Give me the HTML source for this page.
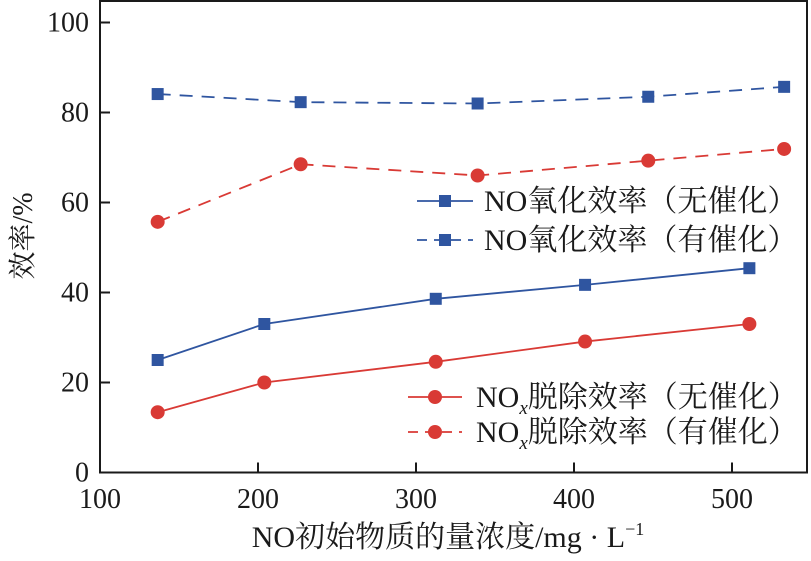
<!DOCTYPE html>
<html><head><meta charset="utf-8">
<style>
html,body{margin:0;padding:0;background:#fff;}
svg text{font-family:"Liberation Serif","Noto Serif CJK SC",serif;fill:#1a1a1a;}
</style></head>
<body>
<svg id="chart" width="811" height="556" viewBox="0 0 811 556" xmlns="http://www.w3.org/2000/svg">
<g id="plot"></g>
</svg>
<script>
const xTicks = [100, 200, 300, 400, 500];
const yTicks = [0, 20, 40, 60, 80, 100];
const xSolid = [136.5, 204, 312.5, 407, 511];
const oxSolid = [25.0, 33.0, 38.6, 41.7, 45.4];
const noxSolid = [13.4, 20.0, 24.6, 29.1, 33.0];
const xDashed = [136.5, 227, 339, 447, 533];
const oxDashed = [84.1, 82.3, 82.0, 83.5, 85.7];
const noxDashed = [55.7, 68.5, 66.0, 69.3, 71.9];

const L=100, R=807, T=1, B=472.5;
const X = v => L + (v-100)*1.58;
const Y = v => B - v*4.5;
const NS='http://www.w3.org/2000/svg';
const g=document.getElementById('plot');
function mk(tag, attrs, parent){const e=document.createElementNS(NS,tag);for(const k in attrs)e.setAttribute(k,attrs[k]);(parent||g).appendChild(e);return e;}
const BLUE='#2f55a0', RED='#d93a35';

const frame=mk('rect',{x:L,y:T,width:R-L,height:B-T,fill:'none',stroke:'#1a1a1a','stroke-width':2});



xTicks.forEach(t=>{
  const tk=mk('line',{x1:X(t),x2:X(t),y1:B,y2:B-10,stroke:'#1a1a1a','stroke-width':2});
  
  
  const tx=mk('text',{x:X(t),y:508,'font-size':28,'text-anchor':'middle'});
  tx.textContent=t;
  
  
});
yTicks.forEach(t=>{
  const tk=mk('line',{x1:L,x2:L+10,y1:Y(t),y2:Y(t),stroke:'#1a1a1a','stroke-width':2});
  
  
  const tx=mk('text',{x:L-11,y:Y(t)+9,'font-size':28,'text-anchor':'end'});
  tx.textContent=t;
  
  
});

function series(xs, ys, color, dashed, shape, name){
  const pl=mk('polyline',{points:xs.map((x,i)=>X(x)+','+Y(ys[i])).join(' '),fill:'none',stroke:color,'stroke-width':1.8,'stroke-dasharray':dashed?'13,9':'none'});
  
  
  xs.forEach((x,i)=>{
    let m;
    if(shape==='sq') m=mk('rect',{x:X(x)-6,y:Y(ys[i])-6,width:12,height:12,fill:color});
    else m=mk('circle',{cx:X(x),cy:Y(ys[i]),r:7,fill:color});
    
    
  });
}
series(xSolid, oxSolid, BLUE, false, 'sq', 'no-oxidation-uncatalyzed');
series(xDashed, oxDashed, BLUE, true, 'sq', 'no-oxidation-catalyzed');
series(xSolid, noxSolid, RED, false, 'ci', 'nox-removal-uncatalyzed');
series(xDashed, noxDashed, RED, true, 'ci', 'nox-removal-catalyzed');

function legend(y, x1, x2, color, dashed, shape, tx, label, sub, rest, name){
  const lg=mk('g',{});
  
  
  mk('line',{x1:x1,x2:x2,y1:y,y2:y,stroke:color,'stroke-width':1.8,'stroke-dasharray':dashed?'10,7':'none'},lg);
  const cx=(x1+x2)/2;
  if(shape==='sq') mk('rect',{x:cx-6,y:y-6,width:12,height:12,fill:color},lg);
  else mk('circle',{cx:cx,cy:y,r:7,fill:color},lg);
  const t=mk('text',{x:tx,y:y+10,'font-size':30},lg);
  if(sub){
    t.appendChild(document.createTextNode(label));
    const s=document.createElementNS(NS,'tspan');
    s.setAttribute('font-size','19');s.setAttribute('font-style','italic');s.setAttribute('dy','7');
    s.textContent=sub;t.appendChild(s);
    const r2=document.createElementNS(NS,'tspan');r2.setAttribute('dy','-7');r2.textContent=rest;t.appendChild(r2);
  } else t.textContent=label+rest;
}
legend(201, 417, 473, BLUE, false, 'sq', 484, 'NO', '', '氧化效率（无催化）', 'legend-no-oxidation-uncatalyzed');
legend(240, 417, 473, BLUE, true, 'sq', 484, 'NO', '', '氧化效率（有催化）', 'legend-no-oxidation-catalyzed');
legend(397, 408, 462, RED, false, 'ci', 476, 'NO', 'x', '脱除效率（无催化）', 'legend-nox-removal-uncatalyzed');
legend(432, 408, 462, RED, true, 'ci', 476, 'NO', 'x', '脱除效率（有催化）', 'legend-nox-removal-catalyzed');

const xt=mk('text',{x:448,y:547,'font-size':30,'text-anchor':'middle'});


xt.appendChild(document.createTextNode('NO初始物质的量浓度/mg · L'));
const sup=document.createElementNS(NS,'tspan');sup.setAttribute('font-size','18');sup.setAttribute('dy','-12');sup.textContent='−1';xt.appendChild(sup);

const yt=mk('text',{x:0,y:0,'font-size':28,'text-anchor':'middle',transform:'translate(32,236) rotate(-90)'});
yt.textContent='效率/%';


</script>
</body></html>
